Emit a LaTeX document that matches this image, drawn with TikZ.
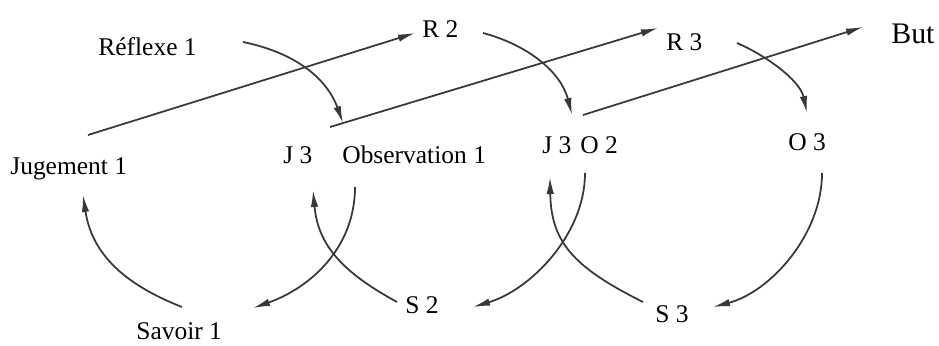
\documentclass[tikz,border=0pt]{standalone}
\usepackage{fontspec}
\setmainfont{Liberation Serif}
\usetikzlibrary{arrows.meta}
\tikzset{
  lbl/.style={anchor=base west, inner sep=0pt, font=\fontsize{14.5}{17}\selectfont},
  bigl/.style={anchor=base west, inner sep=0pt, font=\fontsize{17}{20}\selectfont},
  conn/.style={draw=black!78, line width=1pt, -{Latex[length=3.4mm,width=1.5mm]}}
}
\begin{document}
\begin{tikzpicture}[x=0.02cm, y=-0.02cm]
\useasboundingbox (0,0) rectangle (939,345);
% labels
\node[lbl] (ref1) at (98,55) {Réflexe 1};
\node[lbl] (r2) at (422,37) {R 2};
\node[lbl] (r3) at (666,50) {R 3};
\node[bigl] (but) at (891,43) {But};
\node[lbl] (jug1) at (10,174) {Jugement 1};
\node[lbl] (j3a) at (283,163) {J 3};
\node[lbl] (obs1) at (342,163) {Observation 1};
\node[lbl] (j3b) at (542,153) {J 3};
\node[lbl] (o2) at (580,153) {O 2};
\node[lbl] (o3) at (788,150) {O 3};
\node[lbl] (s2) at (405,313) {S 2};
\node[lbl] (s3) at (655,322) {S 3};
\node[lbl] (sav1) at (136,339) {Savoir 1};
% connector end points
\coordinate (l1s) at (88,135);   \coordinate (l1e) at (415,33);
\coordinate (l2s) at (330,127);  \coordinate (l2e) at (658,28);
\coordinate (l3s) at (583,115);  \coordinate (l3e) at (863,27);
\coordinate (aS) at (243,42);    \coordinate (aE) at (343,123);
\coordinate (bS) at (355,187);   \coordinate (bE) at (253,308);
\coordinate (cS) at (182,307);   \coordinate (cE) at (83,195);
\coordinate (dS) at (397,302);   \coordinate (dE) at (313,190);
\coordinate (eS) at (483,33);    \coordinate (eE) at (572,115);
\coordinate (fS) at (585,173);   \coordinate (fE) at (473,307);
\coordinate (gS) at (643,302);   \coordinate (gE) at (550,177);
\coordinate (hS) at (737,43);    \coordinate (hE) at (807,113);
\coordinate (iS) at (822,173);   \coordinate (iE) at (713,307);
% straight arrows
\draw[conn] (l1s) -- (l1e);
\draw[conn] (l2s) -- (l2e);
\draw[conn] (l3s) -- (l3e);
% arcs
\draw[conn] (aS) .. controls (292,52) and (326,76) .. (aE);
\draw[conn] (bS) .. controls (355,248) and (310,288) .. (bE);
\draw[conn] (cS) .. controls (126,285) and (92,255) .. (cE);
\draw[conn] (dS) .. controls (342,272) and (318,245) .. (dE);
\draw[conn] (eS) .. controls (528,45) and (561,72) .. (eE);
\draw[conn] (fS) .. controls (585,235) and (530,290) .. (fE);
\draw[conn] (gS) .. controls (573,267) and (551,242) .. (gE);
\draw[conn] (hS) .. controls (765,55) and (800,80) .. (hE);
\draw[conn] (iS) .. controls (822,235) and (770,292) .. (iE);
\end{tikzpicture}
\end{document}
